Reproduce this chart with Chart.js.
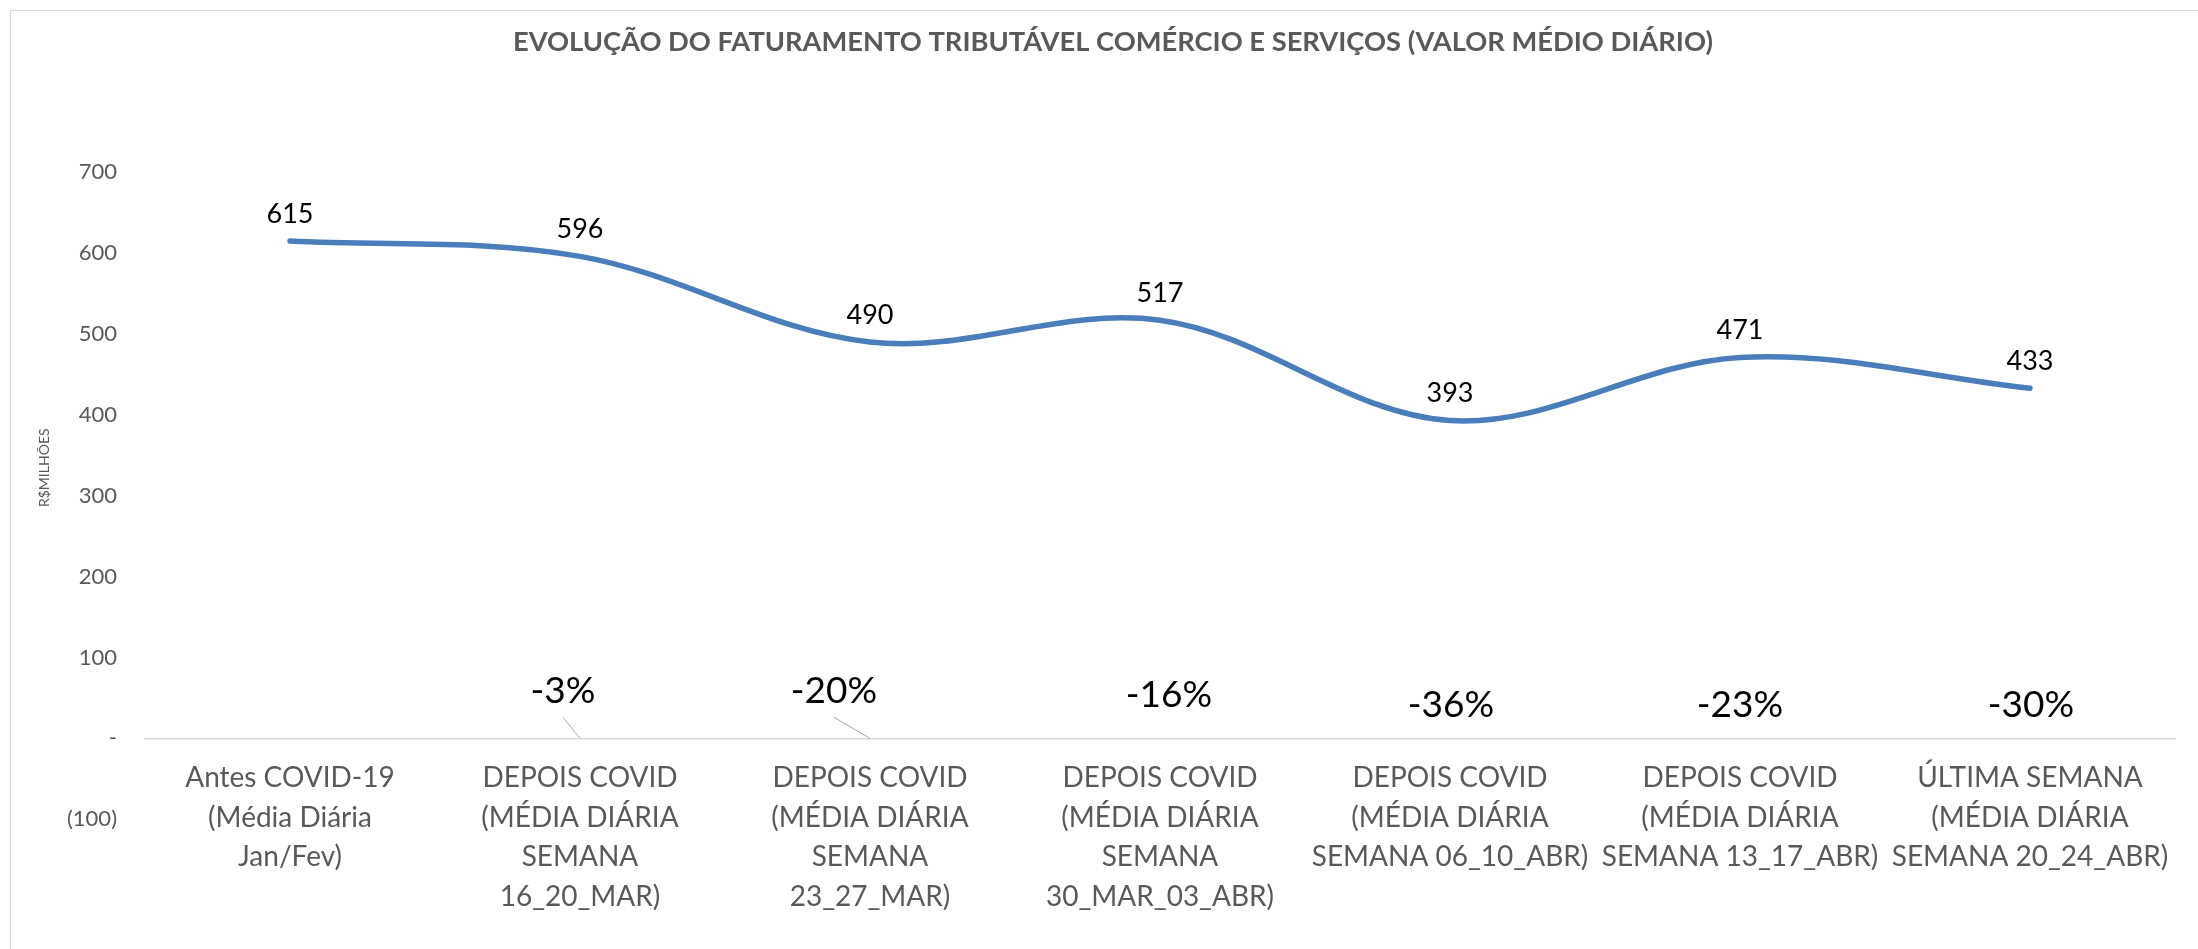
<!DOCTYPE html>
<html>
<head>
<meta charset="utf-8">
<script src="https://cdn.jsdelivr.net/npm/chart.js@4.4.0/dist/chart.umd.min.js"></script>
<style>
html, body { margin: 0; padding: 0; background: #fff; overflow: hidden; }
#moldura { position: absolute; left: 10px; top: 10px; width: 2400px; height: 1100px; border-left: 1px solid #D9D9D9; border-top: 1px solid #D9D9D9; }
#grafico { position: absolute; left: 0; top: 0; }
</style>
</head>
<body>
<div id="moldura"></div>
<canvas id="grafico" width="2226" height="949"></canvas>
<script>
// categorias (eixo X), cada uma quebrada em linhas como no original
const categorias = [
    ['Antes COVID-19', '(Média Diária', 'Jan/Fev)'],
    ['DEPOIS COVID', '(MÉDIA DIÁRIA', 'SEMANA', '16_20_MAR)'],
    ['DEPOIS COVID', '(MÉDIA DIÁRIA', 'SEMANA', '23_27_MAR)'],
    ['DEPOIS COVID', '(MÉDIA DIÁRIA', 'SEMANA', '30_MAR_03_ABR)'],
    ['DEPOIS COVID', '(MÉDIA DIÁRIA', 'SEMANA 06_10_ABR)'],
    ['DEPOIS COVID', '(MÉDIA DIÁRIA', 'SEMANA 13_17_ABR)'],
    ['ÚLTIMA SEMANA', '(MÉDIA DIÁRIA', 'SEMANA 20_24_ABR)']
];

// faturamento médio diário, R$ milhões
const faturamento = [615, 596, 490, 517, 393, 471, 433];

// variação contra o período antes da COVID (rótulos ancorados no eixo)
const variacao = [null, 0, 0, 0, 0, 0, 0];
const variacaoTexto = ['', '-3%', '-20%', '-16%', '-36%', '-23%', '-30%'];

// eixo Y
const yMin = -100;
const yMax = 700;
const yPasso = 100;

const cinza = '#595959';
const fonte = 'Lato, "Open Sans", sans-serif';

// deslocamento dos rótulos de variação em relação ao ponto (dx, dy, linha guia)
const deslocVariacao = [null, [-17, -47, true], [-36, -47, true], [9, -43, false], [1, -33, false], [0, -33, false], [1, -33, false]];

const rotulos = {
    id: 'rotulos',
    afterDatasetsDraw(chart) {
        const ctx = chart.ctx;
        ctx.save();
        ctx.textAlign = 'center';
        ctx.textBaseline = 'middle';
        ctx.fillStyle = '#000';

        ctx.font = '27px ' + fonte;
        chart.getDatasetMeta(0).data.forEach((pt, i) => {
            ctx.fillText(String(faturamento[i]), pt.x, pt.y - 27);
        });

        ctx.font = '37px ' + fonte;
        chart.getDatasetMeta(1).data.forEach((pt, i) => {
            const d = deslocVariacao[i];
            if (!d || !variacaoTexto[i]) return;
            const lx = pt.x + d[0];
            const ly = pt.y + d[1];
            if (d[2]) {
                ctx.strokeStyle = '#A6A6A6';
                ctx.lineWidth = 1;
                ctx.beginPath();
                ctx.moveTo(lx, ly + 26);
                ctx.lineTo(pt.x, pt.y);
                ctx.stroke();
            }
            ctx.fillText(variacaoTexto[i], lx, ly);
        });
        ctx.restore();
    }
};

const ctx = document.getElementById('grafico').getContext('2d');
const grafico = new Chart(ctx, {
    type: 'line',
    data: {
        labels: categorias,
        datasets: [{
            label: 'Faturamento',
            data: faturamento,
            borderColor: '#4A7EBB',
            backgroundColor: '#4A7EBB',
            borderWidth: 5.5,
            borderCapStyle: 'round',
            borderJoinStyle: 'round',
            tension: 0.35,
            pointRadius: 0,
            fill: false
        }, {
            label: 'Variação',
            data: variacao,
            showLine: false,
            pointRadius: 0
        }]
    },
    options: {
        responsive: false,
        animation: false,
        events: [],
        layout: { padding: { top: 0, left: 51, right: 51, bottom: 129.8 } },
        plugins: {
            legend: { display: false },
            tooltip: { enabled: false },
            title: {
                display: true,
                text: 'EVOLUÇÃO DO FATURAMENTO TRIBUTÁVEL COMÉRCIO E SERVIÇOS (VALOR MÉDIO DIÁRIO)',
                color: cinza,
                font: { family: fonte, size: 27.3, weight: 'bold' },
                padding: { top: 25.6, bottom: 113.9 }
            }
        },
        scales: {
            x: {
                position: { y: 0 },
                offset: true,
                grid: { display: false, drawTicks: false },
                border: { display: true, color: '#D9D9D9', width: 1.5 },
                ticks: {
                    color: cinza,
                    font: { family: fonte, size: 28, lineHeight: 1.41 },
                    padding: 20,
                    maxRotation: 0,
                    autoSkip: false
                }
            },
            y: {
                min: yMin,
                max: yMax,
                grid: { display: false, drawTicks: false },
                border: { display: false },
                ticks: {
                    stepSize: yPasso,
                    color: cinza,
                    font: { family: fonte, size: 22 },
                    padding: 28,
                    callback: v => v === 0 ? '-' : (v < 0 ? '(' + (-v) + ')' : String(v))
                },
                title: {
                    display: true,
                    text: '\u2002'.repeat(8) + 'R$MILHÕES',
                    color: cinza,
                    font: { family: fonte, size: 14 },
                    padding: { top: -15.4, bottom: 0 }
                },
                afterFit(scale) { scale.width = 94; }
            }
        }
    },
    plugins: [rotulos]
});
</script>
</body>
</html>
